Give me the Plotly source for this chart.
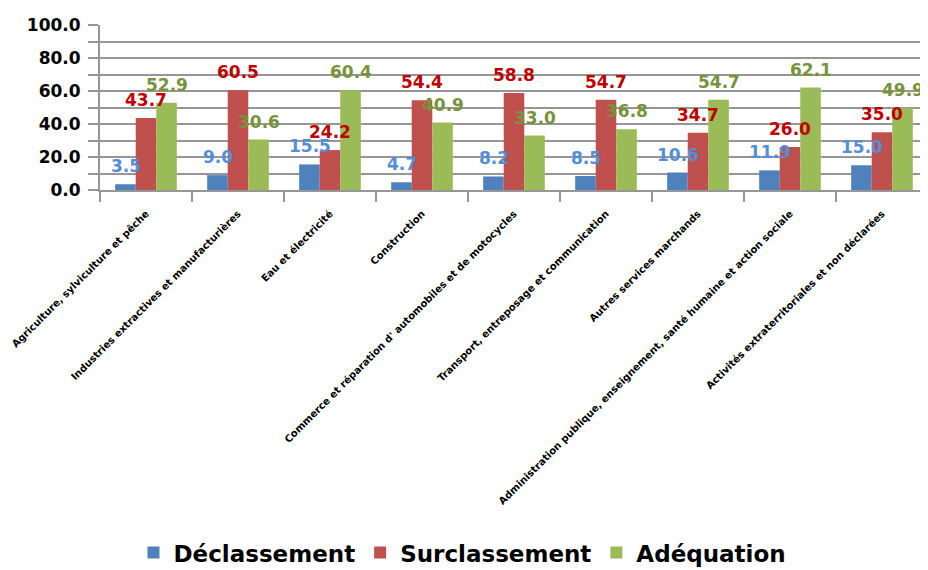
import plotly.graph_objects as go

categories = [
    "Agriculture, sylviculture et pêche",
    "Industries extractives et manufacturières",
    "Eau et électricité",
    "Construction",
    "Commerce et réparation d' automobiles et de motocycles",
    "Transport, entreposage et communication",
    "Autres services marchands",
    "Administration publique, enseignement, santé humaine et action sociale",
    "Activités extraterritoriales et non déclarées",
]
declassement = [3.5, 9.0, 15.5, 4.7, 8.2, 8.5, 10.6, 11.9, 15.0]
surclassement = [43.7, 60.5, 24.2, 54.4, 58.8, 54.7, 34.7, 26.0, 35.0]
adequation = [52.9, 30.6, 60.4, 40.9, 33.0, 36.8, 54.7, 62.1, 49.9]

series = [
    ("Déclassement", declassement, "#4F81BD", "#558ED5", -20.5),
    ("Surclassement", surclassement, "#C0504D", "#C00000", 0),
    ("Adéquation", adequation, "#9BBB59", "#77933C", 20.5),
]

fig = go.Figure()
annotations = []
for name, vals, col, lcol, xs in series:
    fig.add_trace(go.Bar(x=categories, y=vals, name=name, marker_color=col,
                         marker_line_width=0))
    for c, v in zip(categories, vals):
        annotations.append(dict(x=c, y=v, xref="x", yref="y", text=f"<b>{v:.1f}</b>",
                                showarrow=False, yanchor="bottom", xshift=xs, yshift=6,
                                font=dict(family="DejaVu Sans", size=17, color=lcol)))

grid = "#969696"
fig.update_layout(
    width=920, height=562,
    margin=dict(l=92, r=0, t=17, b=380, autoexpand=False),
    paper_bgcolor="white", plot_bgcolor="white",
    barmode="group", bargap=0.33, bargroupgap=0,
    font=dict(family="DejaVu Sans", color="black"),
    annotations=annotations,
    showlegend=True,
    legend=dict(orientation="h", xref="container", yref="container",
                x=0.494, xanchor="center", y=0.031, yanchor="middle",
                font=dict(family="DejaVu Sans", size=23, weight="bold"),
                itemwidth=30, tracegroupgap=0),
)
fig.update_yaxes(range=[0, 100], dtick=20, tickformat=".1f", automargin=False,
                 showgrid=True, gridcolor=grid, gridwidth=2,
                 minor=dict(dtick=10, showgrid=True, gridcolor=grid, gridwidth=2,
                            ticks="outside", ticklen=10, tickcolor=grid, tickwidth=2),
                 ticks="outside", ticklen=10, tickcolor=grid, tickwidth=2,
                 showline=True, linecolor=grid, linewidth=2, ticklabelstandoff=4,
                 tickfont=dict(family="DejaVu Sans", size=17, weight="bold"),
                 zeroline=False)
fig.update_xaxes(tickangle=-45, tickson="boundaries", ticks="outside", ticklen=10,
                 tickcolor=grid, tickwidth=2, showline=True, linecolor=grid, linewidth=2,
                 automargin=False, ticklabelstandoff=12,
                 tickfont=dict(family="DejaVu Sans", size=10, weight="bold"))

fig.write_html("out.html")
